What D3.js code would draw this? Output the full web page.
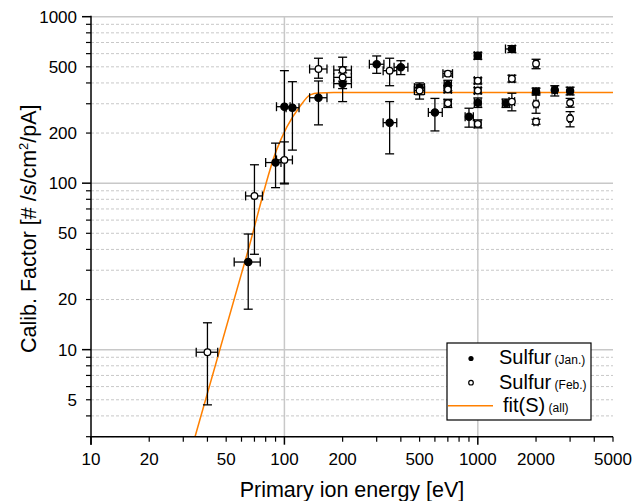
<!DOCTYPE html>
<html><head><meta charset="utf-8">
<script src="https://cdn.jsdelivr.net/npm/d3@7"></script>
<style>body{margin:0;background:#fff} text{font-family:"Liberation Sans",Arial,sans-serif}</style>
</head><body><svg id="c" width="635" height="501"></svg>
<script>
// ---- data ----
const janEnergy     = [65, 90, 100, 110, 150, 200, 300, 350, 400, 500, 600, 700, 900, 1000, 1000, 1500, 1400, 2000, 2500, 3000];
const janEnergyLow  = [55, 80, 91, 102, 135, 180, 275, 324, 369, 470, 555, 670, 860, 960, 960, 1390, 1340, 1930, 2420, 2900];
const janEnergyHigh = [75, 96, 107, 119, 166, 222, 327, 381, 435, 530, 655, 730, 948, 1040, 1040, 1560, 1460, 2070, 2580, 3100];
const janFactor     = [33.6, 133, 288, 284, 326, 396, 518, 231, 497, 375, 266, 389, 251, 583, 304, 640, 302, 355, 363, 358];
const janFactorLow  = [17.5, 94, 100, 158, 224, 309, 457, 150, 449, 320, 206, 360, 217, 555, 285, 610, 285, 339, 334, 339];
const janFactorHigh = [49.5, 174, 474, 407, 411, 460, 581, 309, 544, 400, 323, 415, 282, 610, 325, 670, 320, 372, 385, 377];

const febEnergy     = [40, 70, 100, 150, 200, 200, 350, 500, 700, 700, 700, 1000, 1000, 1000, 1500, 1500, 2000, 2000, 2000, 3000, 3000];
const febEnergyLow  = [35, 63, 91, 135, 180, 180, 324, 470, 660, 670, 670, 960, 960, 960, 1450, 1450, 1950, 1950, 1950, 2950, 2950];
const febEnergyHigh = [45.2, 77, 110, 166, 222, 222, 381, 530, 740, 730, 730, 1040, 1040, 1040, 1550, 1550, 2050, 2050, 2050, 3050, 3050];
const febFactor     = [9.65, 83.8, 138, 485, 478, 432, 474, 360, 455, 366, 302, 413, 360, 227, 424, 309, 522, 299, 234, 304, 245];
const febFactorLow  = [4.66, 37.4, 99, 427, 410, 370, 385, 340, 440, 350, 285, 395, 345, 215, 405, 272, 487, 263, 226, 286, 218];
const febFactorHigh = [14.5, 129, 177, 563, 571, 500, 563, 390, 470, 385, 319, 430, 375, 240, 445, 347, 555, 347, 242, 323, 269];

const fitEnergy = [34.5, 65, 91, 103, 120, 136, 150, 180, 5000];
const fitFactor = [3.0, 39.7, 158, 218, 288, 339, 348, 350, 350];

const xTickLabels = [10, 20, 50, 100, 200, 500, 1000, 2000, 5000];
const yTickLabels = [5, 10, 20, 50, 100, 200, 500, 1000];

// ---- chart ----
const svg = d3.select("#c");
const L = 91, R = 613, T = 16.7, B = 436.7;
const x = d3.scaleLog().domain([10, 5000]).range([L, R]);
const y = d3.scaleLog().domain([3, 1000]).range([B, T]);

const minorY = [], minorX = [];
[1, 10, 100].forEach(d => { for (let k = 2; k <= 9; k++) { const v = d * k; if (v >= 3 && v < 1000) minorY.push(v); } });
[10, 100, 1000].forEach(d => { for (let k = 2; k <= 9; k++) { const v = d * k; if (v <= 5000) minorX.push(v); } });
const majorY = [10, 100, 1000];
const majorX = [10, 100, 1000];

const grid = svg.append("g");
grid.selectAll(".mg").data(minorY).join("line")
  .attr("x1", L).attr("x2", R).attr("y1", d => y(d)).attr("y2", d => y(d))
  .attr("stroke", "#c8c8c8").attr("stroke-width", 1).attr("stroke-dasharray", "3,2");
grid.selectAll(".Mg").data(majorY).join("line")
  .attr("x1", L).attr("x2", R).attr("y1", d => y(d)).attr("y2", d => y(d))
  .attr("stroke", "#c8c8c8").attr("stroke-width", 1.5);
grid.selectAll(".vg").data([100, 1000]).join("line")
  .attr("x1", d => x(d)).attr("x2", d => x(d)).attr("y1", T).attr("y2", B)
  .attr("stroke", "#c8c8c8").attr("stroke-width", 1.5);

// fit line
const fitData = fitEnergy.map((e, i) => [e, fitFactor[i]]);
svg.append("path").datum(fitData)
  .attr("d", d3.line().x(d => x(d[0])).y(d => y(d[1])).curve(d3.curveMonotoneX))
  .attr("fill", "none").attr("stroke", "#ff8000").attr("stroke-width", 1.5);

// axes
const ax = svg.append("g").attr("stroke", "#000");
ax.append("line").attr("x1", L).attr("x2", L).attr("y1", T - 1).attr("y2", B + 8).attr("stroke-width", 1.5);
ax.append("line").attr("x1", L - 1).attr("x2", R).attr("y1", B).attr("y2", B).attr("stroke-width", 1.5);
ax.selectAll(".yt").data(majorY).join("line")
  .attr("x1", L - 9).attr("x2", L).attr("y1", d => y(d)).attr("y2", d => y(d)).attr("stroke-width", 1.5);
ax.selectAll(".ymt").data(minorY).join("line")
  .attr("x1", L - 5).attr("x2", L).attr("y1", d => y(d)).attr("y2", d => y(d)).attr("stroke-width", 1.2);
ax.selectAll(".xt").data(majorX).join("line")
  .attr("x1", d => x(d)).attr("x2", d => x(d)).attr("y1", B).attr("y2", B + 8).attr("stroke-width", 1.5);
ax.selectAll(".xmt").data(minorX).join("line")
  .attr("x1", d => x(d)).attr("x2", d => x(d)).attr("y1", B).attr("y2", B + 5).attr("stroke-width", 1.2);

svg.append("g").selectAll("text").data(yTickLabels).join("text")
  .attr("x", L - 14).attr("y", d => y(d)).attr("dy", "0.35em")
  .attr("text-anchor", "end").attr("font-size", 17).text(d => d);
svg.append("g").selectAll("text").data(xTickLabels).join("text")
  .attr("x", d => x(d)).attr("y", 465)
  .attr("text-anchor", "middle").attr("font-size", 17).text(d => d);

svg.append("text").attr("x", (L + R) / 2).attr("y", 497).attr("text-anchor", "middle")
  .attr("font-size", 21.5).text("Primary ion energy [eV]");
const yl = svg.append("text").attr("transform", `translate(36,${(T + B) / 2 + 2}) rotate(-90)`)
  .attr("text-anchor", "middle").attr("font-size", 21.5);
yl.append("tspan").text("Calib. Factor [# /s/cm");
yl.append("tspan").attr("font-size", 13).attr("dy", -8).text("2");
yl.append("tspan").attr("dy", 8).text("/pA]");

// error bars + markers
function drawSeries(E, El, Eh, F, Fl, Fh, filled) {
  const g = svg.append("g").attr("stroke", "#000").attr("stroke-width", 1.3);
  const idx = d3.range(E.length);
  const cap = 4.5;
  idx.forEach(i => {
    const cx = x(E[i]), cy = y(F[i]);
    g.append("line").attr("x1", cx).attr("x2", cx).attr("y1", y(Fl[i])).attr("y2", y(Fh[i]));
    g.append("line").attr("x1", cx - cap).attr("x2", cx + cap).attr("y1", y(Fl[i])).attr("y2", y(Fl[i]));
    g.append("line").attr("x1", cx - cap).attr("x2", cx + cap).attr("y1", y(Fh[i])).attr("y2", y(Fh[i]));
    g.append("line").attr("x1", x(El[i])).attr("x2", x(Eh[i])).attr("y1", cy).attr("y2", cy);
    g.append("line").attr("x1", x(El[i])).attr("x2", x(El[i])).attr("y1", cy - cap).attr("y2", cy + cap);
    g.append("line").attr("x1", x(Eh[i])).attr("x2", x(Eh[i])).attr("y1", cy - cap).attr("y2", cy + cap);
  });
  svg.append("g").selectAll("circle").data(idx).join("circle")
    .attr("cx", i => x(E[i])).attr("cy", i => y(F[i])).attr("r", filled ? 3.6 : 3.3)
    .attr("fill", filled ? "#000" : "#fff").attr("stroke", "#000").attr("stroke-width", 1.3);
}
drawSeries(janEnergy, janEnergyLow, janEnergyHigh, janFactor, janFactorLow, janFactorHigh, true);
drawSeries(febEnergy, febEnergyLow, febEnergyHigh, febFactor, febFactorLow, febFactorHigh, false);

// legend
const lg = svg.append("g");
lg.append("rect").attr("x", 447).attr("y", 343).attr("width", 144).attr("height", 77)
  .attr("fill", "#fff").attr("stroke", "#000").attr("stroke-width", 1.2);
lg.append("circle").attr("cx", 471).attr("cy", 358.5).attr("r", 2.6).attr("fill", "#000");
lg.append("circle").attr("cx", 471).attr("cy", 382.7).attr("r", 2.3).attr("fill", "#fff").attr("stroke", "#000").attr("stroke-width", 1.2);
lg.append("line").attr("x1", 448).attr("x2", 493).attr("y1", 405.7).attr("y2", 405.7).attr("stroke", "#ff8000").attr("stroke-width", 1.5);
const entries = [["Sulfur", " (Jan.)", 499, 364], ["Sulfur", " (Feb.)", 499, 389], ["fit(S)", " (all)", 503, 412]];
entries.forEach(e => {
  const t = lg.append("text").attr("x", e[2]).attr("y", e[3]).attr("font-size", 20);
  t.append("tspan").text(e[0]);
  t.append("tspan").attr("font-size", 12).text(e[1]);
});
</script></body></html>
